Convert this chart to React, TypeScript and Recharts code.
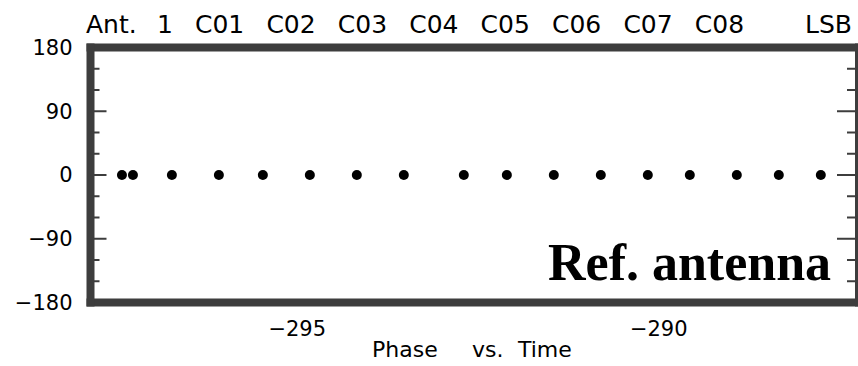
import React from 'react';
import { ScatterChart, Scatter, XAxis, YAxis } from 'recharts';

// ---- data ----
const TIMES = [
  -297.425, -297.273, -296.734, -296.084, -295.476, -294.826, -294.176, -293.526,
  -292.696, -292.101, -291.451, -290.801, -290.151, -289.57, -288.92, -288.339, -287.758,
];
const PHASES = [0, 0, 0, 0, 0, 0, 0, 0, 0, 0, 0, 0, 0, 0, 0, 0, 0];

const X_DOMAIN = [-297.86, -287.23];
const Y_DOMAIN = [-180, 180];
const X_MAJOR = [-295, -290];
const X_MINOR = [-297, -296, -294, -293, -292, -291, -289, -288];
const Y_LABELS = [-180, -90, 0, 90, 180];
const Y_MAJOR = [-90, 0, 90];
const Y_MINOR = [-150, -120, -60, -30, 30, 60, 120, 150];

const ANT_WORD = 'Ant.';
const ANT_NUM = '1';
const CHANNELS = ['C01', 'C02', 'C03', 'C04', 'C05', 'C06', 'C07', 'C08'];
const SIDEBAND = 'LSB';
const AXIS_TITLE = ['Phase', 'vs.', 'Time'];
const NOTE = 'Ref. antenna';

const data = TIMES.map((t, i) => ({ t, phase: PHASES[i] }));

const FRAME = '#3d3d3d';
const PIXFONT = 'DejaVu Sans';
const THIN = 0.001;
const frameLine = { stroke: FRAME, strokeWidth: 8, strokeLinecap: 'square' as const };
const tickLn = { stroke: FRAME, strokeWidth: 2 };
const fmt = (v: number) => (v < 0 ? '\u2212' + Math.abs(v) : String(v));
const labelStyle = { fill: '#000', fontSize: 21, fontFamily: PIXFONT };
const NoLabel = () => <g />;

const Dot = (p: any) => <circle cx={p.cx} cy={p.cy} r={5} fill="#000" />;

export default function App() {
  return (
    <div style={{ position: 'absolute', left: 0, top: 0, width: 858, height: 366, overflow: 'hidden', background: '#fff' }}>
      <ScatterChart width={866} height={366} margin={{ top: 47.5, right: 7, bottom: 0, left: 0 }}>
        {/* bottom: labels + frame */}
        <XAxis xAxisId="xb" type="number" dataKey="t" domain={X_DOMAIN} allowDataOverflow ticks={X_MAJOR}
          interval={0} orientation="bottom" height={63.5} tickLine={false} axisLine={frameLine}
          tickSize={17} tickMargin={2} tickFormatter={fmt} tick={labelStyle} />
        <XAxis xAxisId="xbMinor" type="number" domain={X_DOMAIN} allowDataOverflow ticks={X_MINOR}
          interval={0} orientation="bottom" mirror height={THIN} axisLine={false} tick={NoLabel}
          tickLine={tickLn} tickSize={10} />
        <XAxis xAxisId="xbMajor" type="number" domain={X_DOMAIN} allowDataOverflow ticks={X_MAJOR}
          interval={0} orientation="bottom" mirror height={THIN} axisLine={false} tick={NoLabel}
          tickLine={tickLn} tickSize={20} />
        {/* top */}
        <XAxis xAxisId="xt" type="number" domain={X_DOMAIN} allowDataOverflow ticks={X_MINOR}
          interval={0} orientation="top" mirror height={THIN} axisLine={frameLine} tick={NoLabel}
          tickLine={tickLn} tickSize={10} />
        <XAxis xAxisId="xtMajor" type="number" domain={X_DOMAIN} allowDataOverflow ticks={X_MAJOR}
          interval={0} orientation="top" mirror height={THIN} axisLine={false} tick={NoLabel}
          tickLine={tickLn} tickSize={20} />
        {/* left: labels + frame */}
        <YAxis yAxisId="yl" type="number" dataKey="phase" domain={Y_DOMAIN} allowDataOverflow ticks={Y_LABELS}
          interval={0} orientation="left" width={90.5} tickLine={false} axisLine={frameLine}
          tickSize={16} tickMargin={2} tickFormatter={fmt} tick={labelStyle} />
        <YAxis yAxisId="ylMinor" type="number" domain={Y_DOMAIN} allowDataOverflow ticks={Y_MINOR}
          interval={0} orientation="left" mirror width={THIN} axisLine={false} tick={NoLabel}
          tickLine={tickLn} tickSize={9} />
        <YAxis yAxisId="ylMajor" type="number" domain={Y_DOMAIN} allowDataOverflow ticks={Y_MAJOR}
          interval={0} orientation="left" mirror width={THIN} axisLine={false} tick={NoLabel}
          tickLine={tickLn} tickSize={16} />
        {/* right */}
        <YAxis yAxisId="yr" type="number" domain={Y_DOMAIN} allowDataOverflow ticks={Y_MINOR}
          interval={0} orientation="right" mirror width={THIN} axisLine={frameLine} tick={NoLabel}
          tickLine={tickLn} tickSize={12} />
        <YAxis yAxisId="yrMajor" type="number" domain={Y_DOMAIN} allowDataOverflow ticks={Y_MAJOR}
          interval={0} orientation="right" mirror width={THIN} axisLine={false} tick={NoLabel}
          tickLine={tickLn} tickSize={22} />
        <Scatter data={data} dataKey="phase" xAxisId="xb" yAxisId="yl" isAnimationActive={false} shape={Dot} />
      </ScatterChart>
      <svg width={858} height={366} style={{ position: 'absolute', left: 0, top: 0, pointerEvents: 'none' }}>
        <g fontFamily={PIXFONT} fontSize={25} fill="#000">
          <text x={86} y={33}>{ANT_WORD}</text>
          <text x={157} y={33}>{ANT_NUM}</text>
          {CHANNELS.map((c, i) => (
            <text key={c} x={195 + i * 71.4} y={33}>{c}</text>
          ))}
          <text x={805} y={33}>{SIDEBAND}</text>
        </g>
        <text fontFamily={PIXFONT} fontSize={22} fill="#000" y={357}>
          <tspan x={372}>{AXIS_TITLE[0] + ' '}</tspan>
          <tspan x={472}>{AXIS_TITLE[1] + ' '}</tspan>
          <tspan x={518}>{AXIS_TITLE[2]}</tspan>
        </text>
        <text x={548} y={280} fontFamily="Liberation Serif" fontWeight="bold" fontSize={52} fill="#000">{NOTE}</text>
      </svg>
    </div>
  );
}
